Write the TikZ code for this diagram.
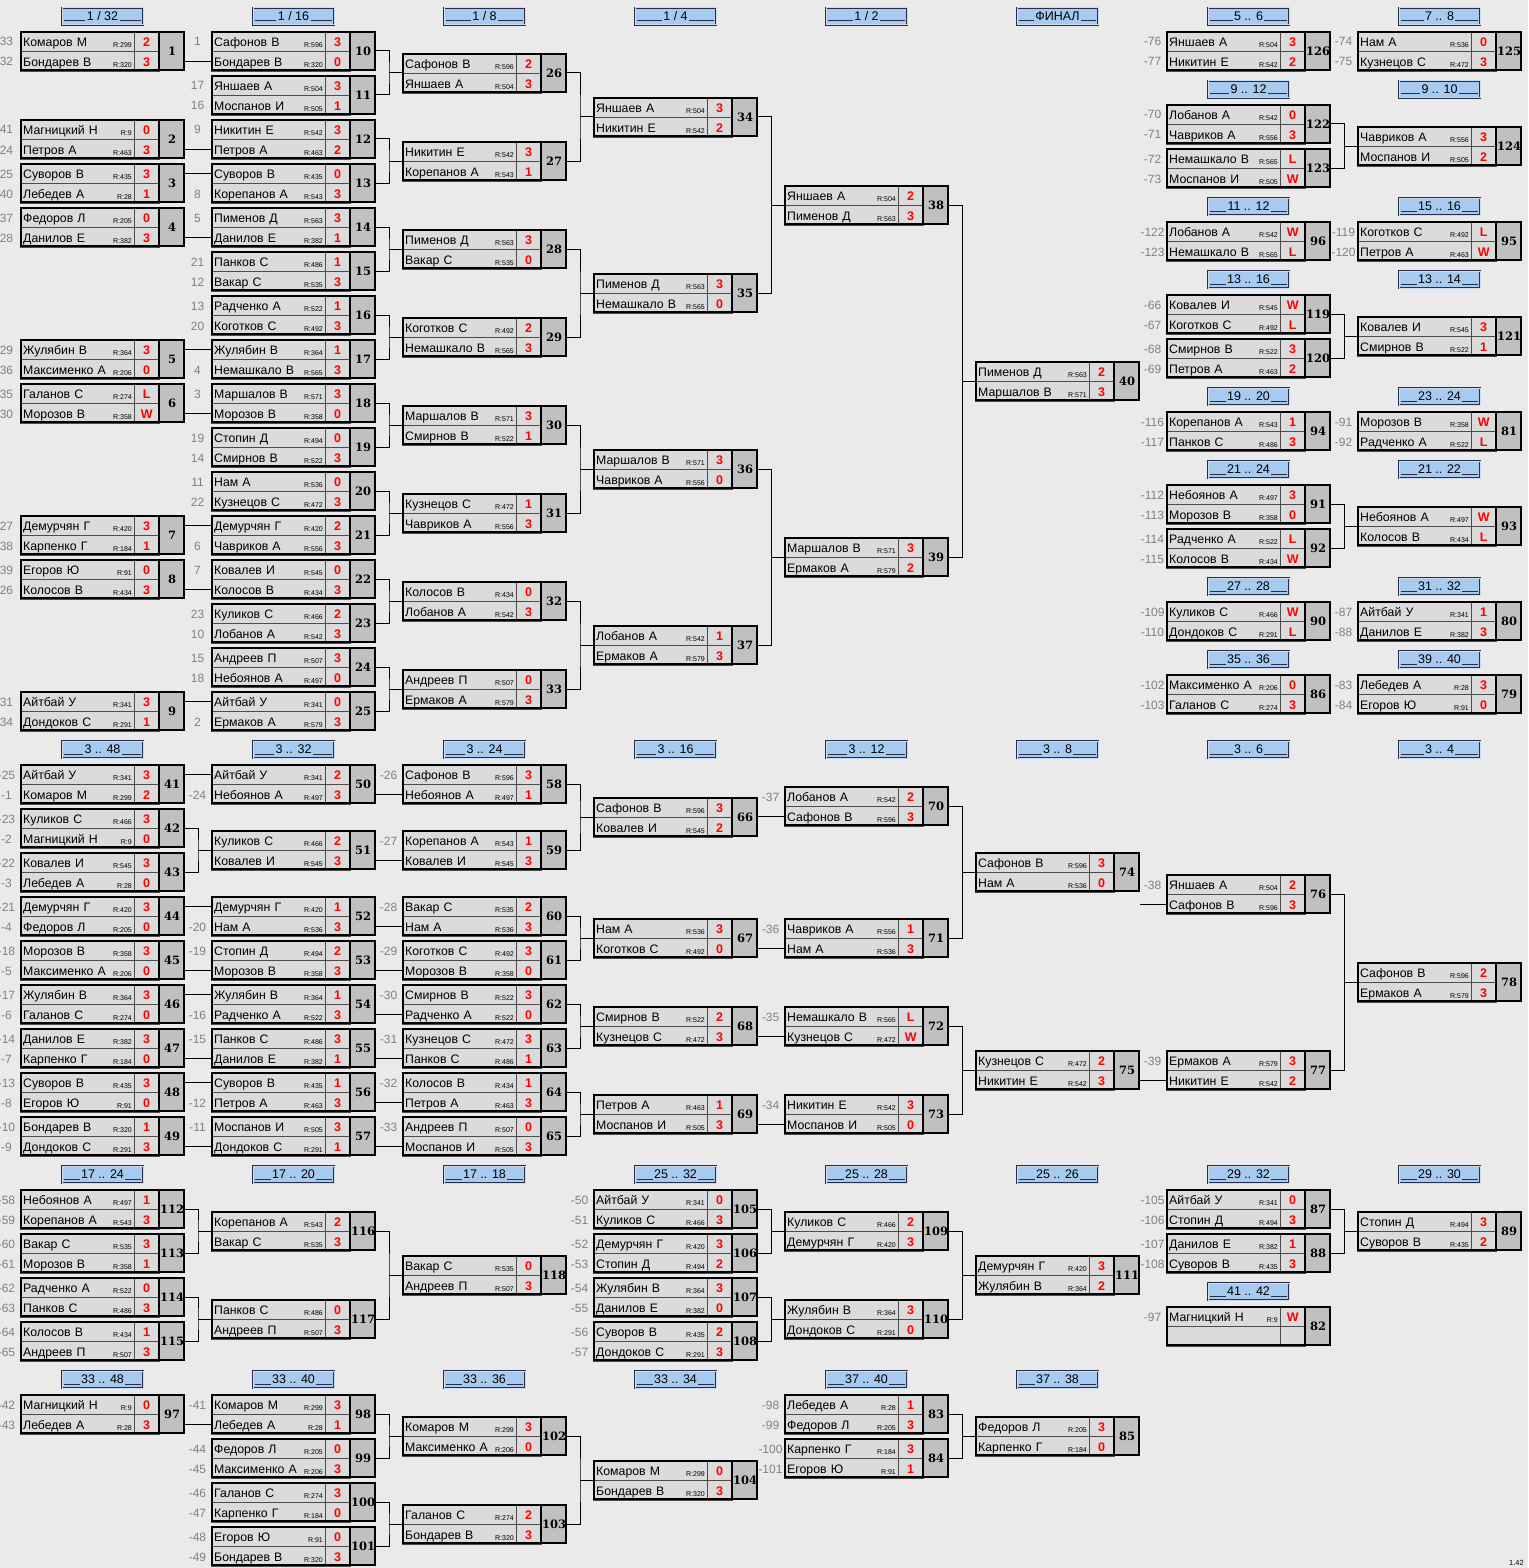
\documentclass[tikz,border=0pt]{standalone}
\usepackage{fontspec}
\setmainfont{Liberation Sans}
\newfontfamily\numfont{DejaVu Serif}
\usepackage{tikz}
\definecolor{bgcol}{RGB}{234,234,234}
\definecolor{cellgray}{RGB}{219,219,219}
\definecolor{numgray}{RGB}{192,192,192}
\definecolor{seedgray}{RGB}{128,128,128}
\definecolor{hblue}{RGB}{166,202,240}
\definecolor{hdark}{RGB}{40,44,70}
\definecolor{hgap}{RGB}{205,218,236}
\tikzstyle{name-cell}=[anchor=north west,draw=black!70,fill=cellgray,minimum height=20pt,text width=108pt,inner xsep=3pt,inner ysep=0pt,align=left,text height=11.5pt,text depth=0.5pt,font=\fontsize{12.3}{14}\selectfont]
\tikzstyle{score-cell}=[anchor=north west,draw=black!70,fill=cellgray,minimum width=25pt,minimum height=20pt,inner sep=0pt,text height=11.5pt,text depth=0.5pt,text=red,font=\fontsize{12.5}{14}\selectfont\bfseries]
\tikzstyle{num-cell}=[anchor=north west,fill=numgray,minimum width=26pt,minimum height=40pt,inner sep=0pt,font=\numfont\bfseries\fontsize{11.5}{13}\selectfont]
\tikzstyle{match-box}=[draw=black,line width=2pt,minimum width=163pt,minimum height=38pt,inner sep=0pt]
\tikzstyle{rate-text}=[anchor=base east,inner sep=0pt,font=\fontsize{7}{8}\selectfont]
\tikzstyle{seed-text}=[anchor=base,inner sep=0pt,text=seedgray,font=\fontsize{12}{14}\selectfont]
\tikzstyle{head-box}=[draw=hdark,line width=0.7pt,double=hgap,double distance=1pt,fill=hblue,minimum width=81pt,minimum height=17pt,inner sep=0pt]
\tikzstyle{head-text}=[anchor=base,fill=hblue,inner xsep=1.5pt,inner ysep=0pt,text depth=2pt,font=\fontsize{12.5}{14}\selectfont]
\tikzstyle{head-line}=[draw=hdark,line width=1pt]
\tikzstyle{sep-line}=[draw=black,line width=2pt]
\tikzstyle{black-line}=[draw=black,line width=1pt]
\def\prow#1#2#3#4/#5/#6/#7\relax{%
  \node[name-cell] (m#1) at (#2,#3) {#5};
  \node[score-cell] (m#1s) at (#2+114,#3) {#7};
  \node[rate-text] (m#1r) at (#2+112,#3+16.5) {\if\relax\detokenize{#6}\relax\else R:#6\fi};
  \node[seed-text] (m#1d) at (#2-13.5,#3+15) {#4};
}
\newcommand{\game}[5]{%
  \node[num-cell] (m#1n) at (#2+139,#3) {#1};
  \prow{#1a}{#2}{#3}#4\relax
  \prow{#1b}{#2}{#3+20}#5\relax
  \node[match-box] (m#1) at (#2+82.5,#3+20) {};
  \draw[sep-line] (m#1n.north west) -- (m#1n.south west);
}
\newcommand{\roundhead}[4]{%
  \node[head-box] (#1) at (#2+82.5,#3) {};
  \draw[head-line] ([shift={(2pt,-4.5pt)}]#1.west) -- ([shift={(-2pt,-4.5pt)}]#1.east);
  \node[head-text] (#1t) at ([yshift=-4pt]#1.center) {#4};
}
\newcommand{\feedto}[2]{\draw[black-line] (m#1.east |- m#2) -- (m#2.west);}
\newcommand{\pairto}[3]{%
  \draw[black-line] (m#1.east) -| ([xshift=-13pt]m#3.west) |- (m#2.east);
  \draw[black-line] ([xshift=-13pt]m#3.west) -- (m#3.west);
}

\begin{document}
\begin{tikzpicture}[x=1pt,y=-1pt]
	\useasboundingbox (0,0) rectangle (1528,1568);
	\fill[bgcol] (0,0) rectangle (1528,1568);

	\begin{scope}
	\roundhead{hd1}{20}{16.5}{1 / 32}
	\roundhead{hd2}{211}{16.5}{1 / 16}
	\roundhead{hd3}{402}{16.5}{1 / 8}
	\roundhead{hd4}{593}{16.5}{1 / 4}
	\roundhead{hd5}{784}{16.5}{1 / 2}
	\roundhead{hd6}{975}{16.5}{ФИНАЛ}
	\roundhead{hd7}{1166}{16.5}{5 .. 6}
	\roundhead{hd8}{1357}{16.5}{7 .. 8}
	\roundhead{hd9}{1166}{89.5}{9 .. 12}
	\roundhead{hd10}{1357}{89.5}{9 .. 10}
	\roundhead{hd11}{1166}{206.5}{11 .. 12}
	\roundhead{hd12}{1357}{206.5}{15 .. 16}
	\roundhead{hd13}{1166}{279.5}{13 .. 16}
	\roundhead{hd14}{1357}{279.5}{13 .. 14}
	\roundhead{hd15}{1166}{396.5}{19 .. 20}
	\roundhead{hd16}{1357}{396.5}{23 .. 24}
	\roundhead{hd17}{1166}{469.5}{21 .. 24}
	\roundhead{hd18}{1357}{469.5}{21 .. 22}
	\roundhead{hd19}{1166}{586.5}{27 .. 28}
	\roundhead{hd20}{1357}{586.5}{31 .. 32}
	\roundhead{hd21}{1166}{659.5}{35 .. 36}
	\roundhead{hd22}{1357}{659.5}{39 .. 40}
	\roundhead{hd23}{20}{749.5}{3 .. 48}
	\roundhead{hd24}{211}{749.5}{3 .. 32}
	\roundhead{hd25}{402}{749.5}{3 .. 24}
	\roundhead{hd26}{593}{749.5}{3 .. 16}
	\roundhead{hd27}{784}{749.5}{3 .. 12}
	\roundhead{hd28}{975}{749.5}{3 .. 8}
	\roundhead{hd29}{1166}{749.5}{3 .. 6}
	\roundhead{hd30}{1357}{749.5}{3 .. 4}
	\roundhead{hd31}{20}{1174.5}{17 .. 24}
	\roundhead{hd32}{211}{1174.5}{17 .. 20}
	\roundhead{hd33}{402}{1174.5}{17 .. 18}
	\roundhead{hd34}{593}{1174.5}{25 .. 32}
	\roundhead{hd35}{784}{1174.5}{25 .. 28}
	\roundhead{hd36}{975}{1174.5}{25 .. 26}
	\roundhead{hd37}{1166}{1174.5}{29 .. 32}
	\roundhead{hd38}{1357}{1174.5}{29 .. 30}
	\roundhead{hd39}{1166}{1291.5}{41 .. 42}
	\roundhead{hd40}{20}{1379.5}{33 .. 48}
	\roundhead{hd41}{211}{1379.5}{33 .. 40}
	\roundhead{hd42}{402}{1379.5}{33 .. 36}
	\roundhead{hd43}{593}{1379.5}{33 .. 34}
	\roundhead{hd44}{784}{1379.5}{37 .. 40}
	\roundhead{hd45}{975}{1379.5}{37 .. 38}
	\end{scope}

	\begin{scope}
	\game{1}{20}{31}{33/Комаров М/299/2}{32/Бондарев В/320/3}
	\game{2}{20}{119}{41/Магницкий Н/9/0}{24/Петров А/463/3}
	\game{3}{20}{163}{25/Суворов В/435/3}{40/Лебедев А/28/1}
	\game{4}{20}{207}{37/Федоров Л/205/0}{28/Данилов Е/382/3}
	\game{5}{20}{339}{29/Жулябин В/364/3}{36/Максименко А/206/0}
	\game{6}{20}{383}{35/Галанов С/274/L}{30/Морозов В/358/W}
	\game{7}{20}{515}{27/Демурчян Г/420/3}{38/Карпенко Г/184/1}
	\game{8}{20}{559}{39/Егоров Ю/91/0}{26/Колосов В/434/3}
	\game{9}{20}{691}{31/Айтбай У/341/3}{34/Дондоков С/291/1}
	\game{10}{211}{31}{1/Сафонов В/596/3}{/Бондарев В/320/0}
	\game{11}{211}{75}{17/Яншаев А/504/3}{16/Моспанов И/505/1}
	\game{12}{211}{119}{9/Никитин Е/542/3}{/Петров А/463/2}
	\game{13}{211}{163}{/Суворов В/435/0}{8/Корепанов А/543/3}
	\game{14}{211}{207}{5/Пименов Д/563/3}{/Данилов Е/382/1}
	\game{15}{211}{251}{21/Панков С/486/1}{12/Вакар С/535/3}
	\game{16}{211}{295}{13/Радченко А/522/1}{20/Коготков С/492/3}
	\game{17}{211}{339}{/Жулябин В/364/1}{4/Немашкало В/565/3}
	\game{18}{211}{383}{3/Маршалов В/571/3}{/Морозов В/358/0}
	\game{19}{211}{427}{19/Стопин Д/494/0}{14/Смирнов В/522/3}
	\game{20}{211}{471}{11/Нам А/536/0}{22/Кузнецов С/472/3}
	\game{21}{211}{515}{/Демурчян Г/420/2}{6/Чавриков А/556/3}
	\game{22}{211}{559}{7/Ковалев И/545/0}{/Колосов В/434/3}
	\game{23}{211}{603}{23/Куликов С/466/2}{10/Лобанов А/542/3}
	\game{24}{211}{647}{15/Андреев П/507/3}{18/Небоянов А/497/0}
	\game{25}{211}{691}{/Айтбай У/341/0}{2/Ермаков А/579/3}
	\game{26}{402}{53}{/Сафонов В/596/2}{/Яншаев А/504/3}
	\game{27}{402}{141}{/Никитин Е/542/3}{/Корепанов А/543/1}
	\game{28}{402}{229}{/Пименов Д/563/3}{/Вакар С/535/0}
	\game{29}{402}{317}{/Коготков С/492/2}{/Немашкало В/565/3}
	\game{30}{402}{405}{/Маршалов В/571/3}{/Смирнов В/522/1}
	\game{31}{402}{493}{/Кузнецов С/472/1}{/Чавриков А/556/3}
	\game{32}{402}{581}{/Колосов В/434/0}{/Лобанов А/542/3}
	\game{33}{402}{669}{/Андреев П/507/0}{/Ермаков А/579/3}
	\game{34}{593}{97}{/Яншаев А/504/3}{/Никитин Е/542/2}
	\game{35}{593}{273}{/Пименов Д/563/3}{/Немашкало В/565/0}
	\game{36}{593}{449}{/Маршалов В/571/3}{/Чавриков А/556/0}
	\game{37}{593}{625}{/Лобанов А/542/1}{/Ермаков А/579/3}
	\game{38}{784}{185}{/Яншаев А/504/2}{/Пименов Д/563/3}
	\game{39}{784}{537}{/Маршалов В/571/3}{/Ермаков А/579/2}
	\game{40}{975}{361}{/Пименов Д/563/2}{/Маршалов В/571/3}

	\game{126}{1166}{31}{-76/Яншаев А/504/3}{-77/Никитин Е/542/2}
	\game{125}{1357}{31}{-74/Нам А/536/0}{-75/Кузнецов С/472/3}
	\game{122}{1166}{104}{-70/Лобанов А/542/0}{-71/Чавриков А/556/3}
	\game{123}{1166}{148}{-72/Немашкало В/565/L}{-73/Моспанов И/505/W}
	\game{124}{1357}{126}{/Чавриков А/556/3}{/Моспанов И/505/2}
	\game{96}{1166}{221}{-122/Лобанов А/542/W}{-123/Немашкало В/565/L}
	\game{95}{1357}{221}{-119/Коготков С/492/L}{-120/Петров А/463/W}
	\game{119}{1166}{294}{-66/Ковалев И/545/W}{-67/Коготков С/492/L}
	\game{120}{1166}{338}{-68/Смирнов В/522/3}{-69/Петров А/463/2}
	\game{121}{1357}{316}{/Ковалев И/545/3}{/Смирнов В/522/1}
	\game{94}{1166}{411}{-116/Корепанов А/543/1}{-117/Панков С/486/3}
	\game{81}{1357}{411}{-91/Морозов В/358/W}{-92/Радченко А/522/L}
	\game{91}{1166}{484}{-112/Небоянов А/497/3}{-113/Морозов В/358/0}
	\game{92}{1166}{528}{-114/Радченко А/522/L}{-115/Колосов В/434/W}
	\game{93}{1357}{506}{/Небоянов А/497/W}{/Колосов В/434/L}
	\game{90}{1166}{601}{-109/Куликов С/466/W}{-110/Дондоков С/291/L}
	\game{80}{1357}{601}{-87/Айтбай У/341/1}{-88/Данилов Е/382/3}
	\game{86}{1166}{674}{-102/Максименко А/206/0}{-103/Галанов С/274/3}
	\game{79}{1357}{674}{-83/Лебедев А/28/3}{-84/Егоров Ю/91/0}

	\game{41}{20}{764}{-25/Айтбай У/341/3}{-1/Комаров М/299/2}
	\game{42}{20}{808}{-23/Куликов С/466/3}{-2/Магницкий Н/9/0}
	\game{43}{20}{852}{-22/Ковалев И/545/3}{-3/Лебедев А/28/0}
	\game{44}{20}{896}{-21/Демурчян Г/420/3}{-4/Федоров Л/205/0}
	\game{45}{20}{940}{-18/Морозов В/358/3}{-5/Максименко А/206/0}
	\game{46}{20}{984}{-17/Жулябин В/364/3}{-6/Галанов С/274/0}
	\game{47}{20}{1028}{-14/Данилов Е/382/3}{-7/Карпенко Г/184/0}
	\game{48}{20}{1072}{-13/Суворов В/435/3}{-8/Егоров Ю/91/0}
	\game{49}{20}{1116}{-10/Бондарев В/320/1}{-9/Дондоков С/291/3}
	\game{50}{211}{764}{/Айтбай У/341/2}{-24/Небоянов А/497/3}
	\game{51}{211}{830}{/Куликов С/466/2}{/Ковалев И/545/3}
	\game{52}{211}{896}{/Демурчян Г/420/1}{-20/Нам А/536/3}
	\game{53}{211}{940}{-19/Стопин Д/494/2}{/Морозов В/358/3}
	\game{54}{211}{984}{/Жулябин В/364/1}{-16/Радченко А/522/3}
	\game{55}{211}{1028}{-15/Панков С/486/3}{/Данилов Е/382/1}
	\game{56}{211}{1072}{/Суворов В/435/1}{-12/Петров А/463/3}
	\game{57}{211}{1116}{-11/Моспанов И/505/3}{/Дондоков С/291/1}
	\game{58}{402}{764}{-26/Сафонов В/596/3}{/Небоянов А/497/1}
	\game{59}{402}{830}{-27/Корепанов А/543/1}{/Ковалев И/545/3}
	\game{60}{402}{896}{-28/Вакар С/535/2}{/Нам А/536/3}
	\game{61}{402}{940}{-29/Коготков С/492/3}{/Морозов В/358/0}
	\game{62}{402}{984}{-30/Смирнов В/522/3}{/Радченко А/522/0}
	\game{63}{402}{1028}{-31/Кузнецов С/472/3}{/Панков С/486/1}
	\game{64}{402}{1072}{-32/Колосов В/434/1}{/Петров А/463/3}
	\game{65}{402}{1116}{-33/Андреев П/507/0}{/Моспанов И/505/3}
	\game{66}{593}{797}{/Сафонов В/596/3}{/Ковалев И/545/2}
	\game{67}{593}{918}{/Нам А/536/3}{/Коготков С/492/0}
	\game{68}{593}{1006}{/Смирнов В/522/2}{/Кузнецов С/472/3}
	\game{69}{593}{1094}{/Петров А/463/1}{/Моспанов И/505/3}
	\game{70}{784}{786}{-37/Лобанов А/542/2}{/Сафонов В/596/3}
	\game{71}{784}{918}{-36/Чавриков А/556/1}{/Нам А/536/3}
	\game{72}{784}{1006}{-35/Немашкало В/565/L}{/Кузнецов С/472/W}
	\game{73}{784}{1094}{-34/Никитин Е/542/3}{/Моспанов И/505/0}
	\game{74}{975}{852}{/Сафонов В/596/3}{/Нам А/536/0}
	\game{75}{975}{1050}{/Кузнецов С/472/2}{/Никитин Е/542/3}
	\game{76}{1166}{874}{-38/Яншаев А/504/2}{/Сафонов В/596/3}
	\game{77}{1166}{1050}{-39/Ермаков А/579/3}{/Никитин Е/542/2}
	\game{78}{1357}{962}{/Сафонов В/596/2}{/Ермаков А/579/3}

	\game{112}{20}{1189}{-58/Небоянов А/497/1}{-59/Корепанов А/543/3}
	\game{113}{20}{1233}{-60/Вакар С/535/3}{-61/Морозов В/358/1}
	\game{114}{20}{1277}{-62/Радченко А/522/0}{-63/Панков С/486/3}
	\game{115}{20}{1321}{-64/Колосов В/434/1}{-65/Андреев П/507/3}
	\game{116}{211}{1211}{/Корепанов А/543/2}{/Вакар С/535/3}
	\game{117}{211}{1299}{/Панков С/486/0}{/Андреев П/507/3}
	\game{118}{402}{1255}{/Вакар С/535/0}{/Андреев П/507/3}
	\game{105}{593}{1189}{-50/Айтбай У/341/0}{-51/Куликов С/466/3}
	\game{106}{593}{1233}{-52/Демурчян Г/420/3}{-53/Стопин Д/494/2}
	\game{107}{593}{1277}{-54/Жулябин В/364/3}{-55/Данилов Е/382/0}
	\game{108}{593}{1321}{-56/Суворов В/435/2}{-57/Дондоков С/291/3}
	\game{109}{784}{1211}{/Куликов С/466/2}{/Демурчян Г/420/3}
	\game{110}{784}{1299}{/Жулябин В/364/3}{/Дондоков С/291/0}
	\game{111}{975}{1255}{/Демурчян Г/420/3}{/Жулябин В/364/2}
	\game{87}{1166}{1189}{-105/Айтбай У/341/0}{-106/Стопин Д/494/3}
	\game{88}{1166}{1233}{-107/Данилов Е/382/1}{-108/Суворов В/435/3}
	\game{89}{1357}{1211}{/Стопин Д/494/3}{/Суворов В/435/2}
	\game{82}{1166}{1306}{-97/Магницкий Н/9/W}{///}
	\game{97}{20}{1394}{-42/Магницкий Н/9/0}{-43/Лебедев А/28/3}
	\game{98}{211}{1394}{-41/Комаров М/299/3}{/Лебедев А/28/1}
	\game{99}{211}{1438}{-44/Федоров Л/205/0}{-45/Максименко А/206/3}
	\game{100}{211}{1482}{-46/Галанов С/274/3}{-47/Карпенко Г/184/0}
	\game{101}{211}{1526}{-48/Егоров Ю/91/0}{-49/Бондарев В/320/3}
	\game{102}{402}{1416}{/Комаров М/299/3}{/Максименко А/206/0}
	\game{103}{402}{1504}{/Галанов С/274/2}{/Бондарев В/320/3}
	\game{104}{593}{1460}{/Комаров М/299/0}{/Бондарев В/320/3}
	\game{83}{784}{1394}{-98/Лебедев А/28/1}{-99/Федоров Л/205/3}
	\game{84}{784}{1438}{-100/Карпенко Г/184/3}{-101/Егоров Ю/91/1}
	\game{85}{975}{1416}{/Федоров Л/205/3}{/Карпенко Г/184/0}

	\node (ver) [anchor=base east,inner sep=0pt,font=\fontsize{7.5}{9}\selectfont] at (1524,1565) {1.42};
	\end{scope}

	\begin{scope}
	\feedto{1}{10b}
	\feedto{2}{12b}
	\feedto{3}{13a}
	\feedto{4}{14b}
	\feedto{5}{17a}
	\feedto{6}{18b}
	\feedto{7}{21a}
	\feedto{8}{22b}
	\feedto{9}{25a}
	\pairto{10}{11}{26}
	\pairto{12}{13}{27}
	\pairto{14}{15}{28}
	\pairto{16}{17}{29}
	\pairto{18}{19}{30}
	\pairto{20}{21}{31}
	\pairto{22}{23}{32}
	\pairto{24}{25}{33}
	\pairto{26}{27}{34}
	\pairto{28}{29}{35}
	\pairto{30}{31}{36}
	\pairto{32}{33}{37}
	\pairto{34}{35}{38}
	\pairto{36}{37}{39}
	\pairto{38}{39}{40}
	\pairto{122}{123}{124}
	\pairto{119}{120}{121}
	\pairto{91}{92}{93}
	\feedto{41}{50a}
	\pairto{42}{43}{51}
	\feedto{44}{52a}
	\feedto{45}{53b}
	\feedto{46}{54a}
	\feedto{47}{55b}
	\feedto{48}{56a}
	\feedto{49}{57b}
	\feedto{50}{58b}
	\feedto{51}{59b}
	\feedto{52}{60b}
	\feedto{53}{61b}
	\feedto{54}{62b}
	\feedto{55}{63b}
	\feedto{56}{64b}
	\feedto{57}{65b}
	\pairto{58}{59}{66}
	\pairto{60}{61}{67}
	\pairto{62}{63}{68}
	\pairto{64}{65}{69}
	\feedto{66}{70b}
	\feedto{67}{71b}
	\feedto{68}{72b}
	\feedto{69}{73b}
	\pairto{70}{71}{74}
	\pairto{72}{73}{75}
	\feedto{74}{76b}
	\feedto{75}{77b}
	\pairto{76}{77}{78}
	\pairto{112}{113}{116}
	\pairto{114}{115}{117}
	\pairto{116}{117}{118}
	\pairto{105}{106}{109}
	\pairto{107}{108}{110}
	\pairto{109}{110}{111}
	\pairto{87}{88}{89}
	\feedto{97}{98b}
	\pairto{98}{99}{102}
	\pairto{100}{101}{103}
	\pairto{102}{103}{104}
	\pairto{83}{84}{85}
	\end{scope}
\end{tikzpicture}
\end{document}
